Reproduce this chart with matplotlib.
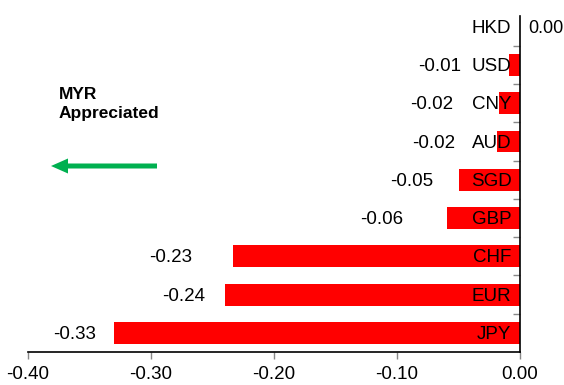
import matplotlib
matplotlib.use("Agg")
import matplotlib.pyplot as plt
from matplotlib.patches import FancyArrow

plt.rcParams['font.family'] = ['Liberation Sans', 'DejaVu Sans']

currencies = ["JPY", "EUR", "CHF", "GBP", "SGD", "AUD", "CNY", "USD", "HKD"]
values = [-0.33, -0.24, -0.233, -0.059, -0.05, -0.019, -0.017, -0.009, 0.0]
value_labels = ["-0.33", "-0.24", "-0.23", "-0.06", "-0.05", "-0.02", "-0.02", "-0.01", "0.00"]
xticks = [-0.40, -0.30, -0.20, -0.10, 0.00]
xticklabels = ["-0.40", "-0.30", "-0.20", "-0.10", "0.00"]

# label gap from bar end, in pixels (layout only)
label_gaps = [18, 20, 41, 44, 25, 41, 46, 48, -8]

W, H = 564, 385
FS = 13.5
fig = plt.figure(figsize=(W / 100, H / 100), dpi=100)
ax = fig.add_axes([28 / W, 33 / H, (520 - 28) / W, (352 - 16) / H])

ys = list(range(len(currencies)))
ax.barh(ys, values, height=0.57, color="#FF0000", edgecolor="none")

ax.set_xlim(-0.40, 0.0)
ax.set_ylim(-0.5, 8.28)

for y, v, lab, cur, g in zip(ys, values, value_labels, currencies, label_gaps):
    ax.annotate(cur, xy=(-0.007, y), xytext=(0, -1.2), textcoords="offset points",
                ha="right", va="center", fontsize=FS, color="black")
    ax.annotate(lab, xy=(v, y), xytext=(-g * 0.72, -1.2), textcoords="offset points",
                ha="right" if g > 0 else "left", va="center",
                fontsize=FS if g > 0 else 13, annotation_clip=False)

# spines
for s in ["top", "left"]:
    ax.spines[s].set_visible(False)
ax.spines["right"].set_linewidth(1.2)
ax.spines["bottom"].set_linewidth(1.2)

ax.set_xticks(xticks)
ax.set_xticklabels(xticklabels, fontsize=FS)
ax.tick_params(axis="x", direction="out", length=5, width=1, color="#888888", pad=5)

ax.yaxis.tick_right()
ax.set_yticks([y + 0.5 for y in ys[:-1]])
ax.set_yticklabels([])
ax.tick_params(axis="y", direction="in", length=5, width=1, color="#888888")

# annotation
fig.text(59 / W, 1 - 104 / H, "MYR\nAppreciated", fontsize=12.5, fontweight="bold",
         ha="left", va="center", linespacing=1.4)
arrow = FancyArrow(157 / W, 1 - 166 / H, -(157 - 51) / W, 0, width=5 / H,
                   head_width=15 / H, head_length=17 / W, length_includes_head=True,
                   transform=fig.transFigure, color="#00B050", linewidth=0)
fig.patches.append(arrow)

fig.savefig("out.png", dpi=100)
